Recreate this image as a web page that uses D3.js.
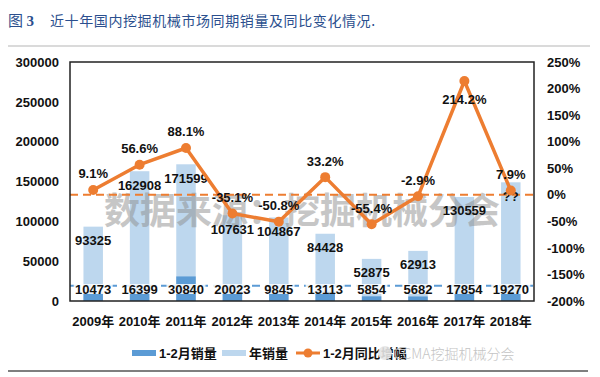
<!DOCTYPE html>
<meta charset="utf-8" />
<head>
  <style>
    body { margin: 0; background: #fff; }
    svg text { font-family: "Liberation Sans", Arial, "Noto Sans CJK SC", sans-serif; }
    .cjk { font-family: "Noto Sans CJK SC", sans-serif; }
  </style>
</head>
<script src="https://d3js.org/d3.v7.min.js"></script>
<body>
  <svg id="chart" width="600" height="377"></svg>
  <script>
    // data
    const years = ["2009年", "2010年", "2011年", "2012年", "2013年", "2014年", "2015年", "2016年", "2017年", "2018年"];
    const annualSales = [93325, 162908, 171599, 107631, 104867, 84428, 52875, 62913, 130559, 149000];
    const annualLabels = ["93325", "162908", "171599", "107631", "104867", "84428", "52875", "62913", "130559", "??"];
    const janFebSales = [10473, 16399, 30840, 20023, 9845, 13113, 5854, 5682, 17854, 19270];
    const yoyGrowth = [9.1, 56.6, 88.1, -35.1, -50.8, 33.2, -55.4, -2.9, 214.2, 7.9];
    const leftTicks = [0, 50000, 100000, 150000, 200000, 250000, 300000];
    const rightTicks = [-200, -150, -100, -50, 0, 50, 100, 150, 200, 250];
    const legendItems = ["1-2月销量", "年销量", "1-2月同比增幅"];

    const colors = { dark: "#5b9bd5", light: "#bdd7ee", orange: "#ed7d31" };

    // plot frame
    const plot = { left: 70, right: 534, top: 62, bottom: 301 };

    const svg = d3.select("#chart");

    // title and rules
    svg.append("line")
      .attr("x1", 8).attr("x2", 590).attr("y1", 46).attr("y2", 46)
      .attr("stroke", "#b5b5b5").attr("stroke-width", 1);
    svg.append("line")
      .attr("x1", 8).attr("x2", 588).attr("y1", 371).attr("y2", 371)
      .attr("stroke", "#555").attr("stroke-width", 1.5);

    const title = svg.append("text")
      .attr("x", 8).attr("y", 26)
      .attr("fill", "#2b4f8e")
      .attr("font-size", 15);
    title.append("tspan").attr("class", "cjk").text("图 ");
    title.append("tspan").attr("font-weight", 700).attr("font-family", "Liberation Serif").text("3");
    svg.append("text")
      .attr("class", "cjk")
      .attr("x", 50).attr("y", 26)
      .attr("fill", "#2b4f8e")
      .attr("font-size", 14)
      .attr("letter-spacing", 0.6)
      .text("近十年国内挖掘机械市场同期销量及同比变化情况.");

    // scales
    const x = d3.scaleBand().domain(years).range([plot.left, plot.right]).padding(0);
    const barW = x.bandwidth() * 0.42;
    const yL = d3.scaleLinear().domain([0, 300000]).range([plot.bottom, plot.top]);
    const yR = d3.scaleLinear().domain([-200, 250]).range([plot.bottom, plot.top]);
    const cx = (i) => x(years[i]) + x.bandwidth() / 2;

    // bars: annual behind, jan-feb in front
    svg.append("g").selectAll("rect")
      .data(annualSales)
      .join("rect")
      .attr("x", (d, i) => cx(i) - barW / 2)
      .attr("width", barW)
      .attr("y", (d) => yL(d))
      .attr("height", (d) => yL(0) - yL(d))
      .attr("fill", colors.light);

    svg.append("g").selectAll("rect")
      .data(janFebSales)
      .join("rect")
      .attr("x", (d, i) => cx(i) - barW / 2)
      .attr("width", barW)
      .attr("y", (d) => yL(d))
      .attr("height", (d) => yL(0) - yL(d))
      .attr("fill", colors.dark);

    // watermark
    svg.append("text")
      .attr("class", "cjk")
      .attr("x", 302).attr("y", 208)
      .attr("text-anchor", "middle")
      .attr("dominant-baseline", "central")
      .attr("font-size", 36)
      .attr("font-weight", 700)
      .attr("fill", "#8e8e8e")
      .attr("opacity", 0.5)
      .text("数据来源：挖掘机械分会");

    // reference dashed lines
    svg.append("line")
      .attr("x1", plot.left).attr("x2", plot.right)
      .attr("y1", yL(janFebSales[janFebSales.length - 1])).attr("y2", yL(janFebSales[janFebSales.length - 1]))
      .attr("stroke", colors.dark).attr("stroke-width", 2)
      .attr("stroke-dasharray", "8,5");
    svg.append("line")
      .attr("x1", plot.left).attr("x2", plot.right)
      .attr("y1", yR(0)).attr("y2", yR(0))
      .attr("stroke", colors.orange).attr("stroke-width", 2)
      .attr("stroke-dasharray", "8,5");

    // frame
    svg.append("rect")
      .attr("x", plot.left).attr("y", plot.top)
      .attr("width", plot.right - plot.left).attr("height", plot.bottom - plot.top)
      .attr("fill", "none").attr("stroke", "#222").attr("stroke-width", 1.5);

    // axes
    const leftAxis = svg.append("g")
      .attr("transform", `translate(${plot.left},0)`)
      .call(d3.axisLeft(yL).tickValues(leftTicks).tickSize(0).tickPadding(11).tickFormat(d3.format("d")));
    const rightAxis = svg.append("g")
      .attr("transform", `translate(${plot.right},0)`)
      .call(d3.axisRight(yR).tickValues(rightTicks).tickSize(0).tickPadding(13).tickFormat((d) => d + "%"));
    const bottomAxis = svg.append("g")
      .attr("transform", `translate(0,${plot.bottom})`)
      .call(d3.axisBottom(x).tickSize(0).tickPadding(16));
    [leftAxis, rightAxis, bottomAxis].forEach((g) => {
      g.select(".domain").remove();
      g.selectAll("text")
        .attr("font-size", 13)
        .attr("font-weight", 700)
        .attr("fill", "#111")
        .attr("font-family", "Liberation Sans, Noto Sans CJK SC, sans-serif");
    });

    // annual labels inside bars
    svg.append("g").selectAll("text")
      .data(annualLabels)
      .join("text")
      .attr("x", (d, i) => cx(i))
      .attr("y", (d, i) => yL(annualSales[i]) + 14)
      .attr("text-anchor", "middle")
      .attr("dominant-baseline", "central")
      .attr("font-size", 13)
      .attr("font-weight", 700)
      .attr("fill", "#111")
      .text((d) => d);

    // jan-feb labels with white boxes along the bottom
    const jfLabels = svg.append("g").selectAll("g")
      .data(janFebSales)
      .join("g")
      .attr("transform", (d, i) => `translate(${cx(i)},289)`);
    jfLabels.append("rect")
      .attr("x", (d) => -String(d).length * 3.7 - 1)
      .attr("y", -5)
      .attr("width", (d) => String(d).length * 7.4 + 2)
      .attr("height", 10)
      .attr("fill", "#fff")
      .attr("opacity", 0.85);
    jfLabels.append("text")
      .attr("text-anchor", "middle")
      .attr("dominant-baseline", "central")
      .attr("font-size", 13)
      .attr("font-weight", 700)
      .attr("fill", "#111")
      .text((d) => d);

    // growth line
    const line = d3.line().x((d, i) => cx(i)).y((d) => yR(d));
    svg.append("path")
      .datum(yoyGrowth)
      .attr("d", line)
      .attr("fill", "none")
      .attr("stroke", colors.orange)
      .attr("stroke-width", 3.5)
      .attr("stroke-linejoin", "round");
    svg.append("g").selectAll("circle")
      .data(yoyGrowth)
      .join("circle")
      .attr("cx", (d, i) => cx(i))
      .attr("cy", (d) => yR(d))
      .attr("r", 5)
      .attr("fill", colors.orange);

    const maxGrowth = d3.max(yoyGrowth);
    svg.append("g").selectAll("text")
      .data(yoyGrowth)
      .join("text")
      .attr("x", (d, i) => cx(i))
      .attr("y", (d) => yR(d) + (d === maxGrowth ? 18 : -16))
      .attr("text-anchor", "middle")
      .attr("dominant-baseline", "central")
      .attr("font-size", 13)
      .attr("font-weight", 700)
      .attr("fill", "#111")
      .text((d) => d.toFixed(1) + "%");

    // legend
    const legend = svg.append("g").attr("transform", "translate(0,353)");
    const legendX = [132, 222, 296];
    legendItems.forEach((name, i) => {
      const g = legend.append("g").attr("transform", `translate(${legendX[i]},0)`);
      if (i < 2) {
        g.append("rect")
          .attr("x", 0).attr("y", -3).attr("width", 24).attr("height", 6)
          .attr("fill", i === 0 ? colors.dark : colors.light);
      } else {
        g.append("line")
          .attr("x1", 0).attr("x2", 24).attr("y1", 0).attr("y2", 0)
          .attr("stroke", colors.orange).attr("stroke-width", 3);
        g.append("circle").attr("cx", 12).attr("cy", 0).attr("r", 4.5).attr("fill", colors.orange);
      }
      g.append("text")
        .attr("x", 27).attr("y", 0)
        .attr("dominant-baseline", "central")
        .attr("font-size", 13)
        .attr("font-weight", 700)
        .attr("fill", "#111")
        .attr("font-family", "Liberation Sans, Noto Sans CJK SC, sans-serif")
        .text(name);
    });

    // corner watermark
    svg.append("circle").attr("cx", 385).attr("cy", 353).attr("r", 7)
      .attr("fill", "#e6e6e6").attr("opacity", 0.9);
    svg.append("text")
      .attr("class", "cjk")
      .attr("x", 394).attr("y", 353)
      .attr("dominant-baseline", "central")
      .attr("font-size", 14)
      .attr("font-weight", 300)
      .attr("fill", "#c4c4c4")
      .text("CCMA挖掘机械分会");
  </script>
</body>
